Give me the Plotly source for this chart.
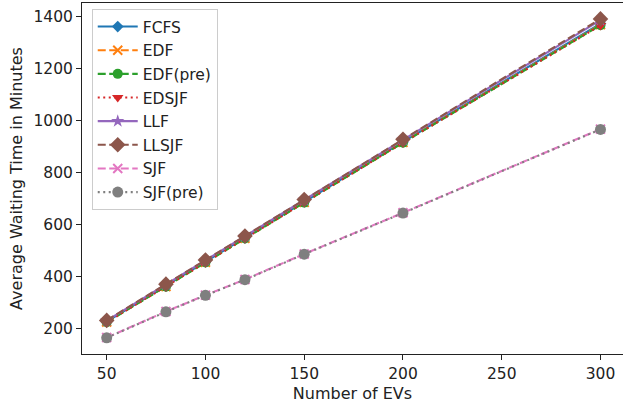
import plotly.graph_objects as go

num_evs = [50, 80, 100, 120, 150, 200, 300]

fcfs     = [228, 365, 458, 550, 688, 918, 1372]
edf      = [227, 363, 456, 548, 686, 916, 1368]
edf_pre  = [226, 362, 455, 547, 685, 915, 1366]
edsjf    = [226, 362, 455, 547, 685, 915, 1365]
llf      = [232, 370, 463, 556, 695, 926, 1385]
llsjf    = [233, 372, 465, 557, 697, 928, 1390]
sjf      = [167, 267, 330, 390, 488, 646, 967]
sjf_pre  = [166, 266, 329, 389, 487, 645, 966]

x_ticks = [50, 100, 150, 200, 250, 300]
y_ticks = [200, 400, 600, 800, 1000, 1200, 1400]

DASH = "8px,3.5px"
DOT = "2px,3.5px"

series = [
    ("FCFS", fcfs, "#1f77b4", "solid", "diamond", 9),
    ("EDF", edf, "#ff7f0e", DASH, "x-thin-open", 9),
    ("EDF(pre)", edf_pre, "#2ca02c", DASH, "circle", 10),
    ("EDSJF", edsjf, "#d62728", DOT, "triangle-down", 10),
    ("LLF", llf, "#9467bd", "solid", "star", 10),
    ("LLSJF", llsjf, "#8c564b", DASH, "diamond", 12),
    ("SJF", sjf, "#e377c2", DASH, "x-thin-open", 9),
    ("SJF(pre)", sjf_pre, "#7f7f7f", DOT, "circle", 11),
]

fig = go.Figure()
for name, ys, color, dash, sym, size in series:
    marker = dict(symbol=sym, size=size, color=color)
    if "open" in sym:
        marker["line"] = dict(color=color, width=2)
    fig.add_trace(go.Scatter(
        x=num_evs, y=ys, name=name, mode="lines+markers",
        legendgroup=name,
        line=dict(color=color, width=2.1, dash=dash),
        marker=marker,
    ))

font_family = "DejaVu Sans"
fig.update_layout(
    width=623, height=412,
    margin=dict(l=82, r=0, t=3, b=58),
    paper_bgcolor="white", plot_bgcolor="white",
    font=dict(family=font_family, size=15.5, color="#222"),
    showlegend=True,
    legend=dict(
        x=0.018, y=0.983, xanchor="left", yanchor="top",
        bgcolor="rgba(255,255,255,0.8)", bordercolor="#cccccc", borderwidth=1,
        font=dict(family=font_family, size=15.5, color="#222"),
        tracegroupgap=0.5, itemwidth=40,
    ),
    xaxis=dict(
        range=[37.5, 311.4], tickvals=x_ticks, showgrid=False, zeroline=False,
        showline=True, linecolor="#222", linewidth=1, mirror=True,
        ticks="outside", ticklen=5, tickcolor="#222", automargin=False,
        tickfont=dict(size=15.5),
        title=dict(text="Number of EVs", standoff=6, font=dict(size=16)),
    ),
    yaxis=dict(
        range=[104, 1451], tickvals=y_ticks, showgrid=False, zeroline=False,
        showline=True, linecolor="#222", linewidth=1,
        ticks="outside", ticklen=5, tickcolor="#222", automargin=False,
        tickfont=dict(size=15.5),
        title=dict(text="Average Waiting Time in Minutes", standoff=6, font=dict(size=16)),
    ),
)

fig.write_html(
    "out.html",
    config={"displayModeBar": False},
    post_script="document.body.style.margin='0';document.body.style.overflow='hidden';",
)
